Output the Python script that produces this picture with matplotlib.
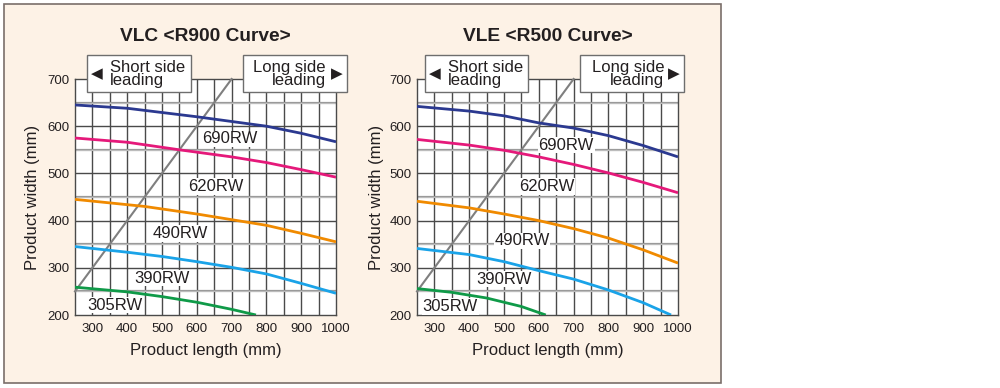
import matplotlib
matplotlib.use("Agg")
import matplotlib.pyplot as plt
from matplotlib.patches import Rectangle

plt.rcParams['font.family'] = ['Liberation Sans', 'DejaVu Sans']

# ---------------- data ----------------
titles = ["VLC <R900 Curve>", "VLE <R500 Curve>"]
series_names = ["690RW", "620RW", "490RW", "390RW", "305RW"]
colors = ["#2b3990", "#e5197a", "#f08a00", "#1aa3e8", "#0f9a48"]

# VLC (R900)
vlc_690_x = [250, 400, 600, 700, 800, 900, 1000]
vlc_690_y = [645, 638, 620, 610, 600, 585, 567]
vlc_620_x = [250, 400, 550, 700, 800, 900, 1000]
vlc_620_y = [575, 566, 550, 535, 523, 508, 492]
vlc_490_x = [250, 450, 600, 700, 800, 900, 1000]
vlc_490_y = [445, 430, 414, 402, 390, 373, 355]
vlc_390_x = [250, 400, 500, 600, 700, 800, 900, 1000]
vlc_390_y = [345, 333, 324, 313, 301, 287, 267, 246]
vlc_305_x = [250, 400, 500, 600, 700, 770]
vlc_305_y = [259, 249, 239, 227, 212, 200]

# VLE (R500)
vle_690_x = [250, 400, 500, 600, 700, 800, 900, 1000]
vle_690_y = [642, 632, 622, 607, 596, 580, 559, 535]
vle_620_x = [250, 400, 500, 600, 700, 800, 900, 1000]
vle_620_y = [572, 560, 549, 535, 519, 501, 481, 459]
vle_490_x = [250, 400, 500, 600, 700, 800, 900, 1000]
vle_490_y = [441, 427, 414, 400, 383, 363, 338, 310]
vle_390_x = [250, 400, 500, 600, 700, 800, 900, 980]
vle_390_y = [341, 328, 313, 294, 276, 253, 226, 200]
vle_305_x = [250, 350, 450, 550, 620]
vle_305_y = [256, 248, 236, 218, 200]

# boundary line (short side / long side leading)
diag_x = [250, 700]
diag_y = [250, 700]

# label positions (data coords)
vlc_label_xy = [(695, 573), (655, 472), (552, 373), (500, 278), (365, 221)]
vle_label_xy = [(679, 560), (622, 472), (552, 357), (499, 276), (346, 218)]

x_ticks = [300, 400, 500, 600, 700, 800, 900, 1000]
y_ticks = [200, 300, 400, 500, 600, 700]

charts = [
    dict(title=titles[0],
         xs=[vlc_690_x, vlc_620_x, vlc_490_x, vlc_390_x, vlc_305_x],
         ys=[vlc_690_y, vlc_620_y, vlc_490_y, vlc_390_y, vlc_305_y],
         labels=vlc_label_xy,
         left=0.075, short_box=(284, 583), long_box=(733, 1032),
         short_arrow=312, short_text=350, long_text=971, long_arrow=1002,
         ylab_x=33),
    dict(title=titles[1],
         xs=[vle_690_x, vle_620_x, vle_490_x, vle_390_x, vle_305_x],
         ys=[vle_690_y, vle_620_y, vle_490_y, vle_390_y, vle_305_y],
         labels=vle_label_xy,
         left=0.417, short_box=(272, 569), long_box=(719, 1018),
         short_arrow=302, short_text=338, long_text=961, long_arrow=987,
         ylab_x=377),
]

fig = plt.figure(figsize=(10, 3.88), dpi=100)
fig.patch.set_facecolor("white")
bg = Rectangle((4/1000, 1-383/388), (721-4)/1000, (383-4)/388,
               transform=fig.transFigure, facecolor="#fdf2e6",
               edgecolor="#7a6e6a", linewidth=1.2, zorder=-10)
fig.patches.append(bg)

txt = "#231f20"
grid_dark = "#4a4a4a"
grid_light = "#9a9a9a"

for c in charts:
    ax = fig.add_axes([c["left"], 1-315/388, 0.261, 236/388])
    ax.set_zorder(1)
    ax.set_facecolor("white")
    ax.set_xlim(250, 1000)
    ax.set_ylim(200, 700)
    # grid
    for gx in range(300, 1000, 50):
        ax.axvline(gx, color=grid_dark, lw=1.0, zorder=1)
    for gy in range(250, 700, 50):
        if gy % 100 == 0:
            ax.axhline(gy, color=grid_dark, lw=1.0, zorder=1)
        else:
            ax.axhline(gy, color=grid_light, lw=1.6, zorder=1)
            ax.axhline(gy, color="#d8d8d8", lw=0.4, zorder=1)
    for s in ax.spines.values():
        s.set_color(grid_dark)
        s.set_linewidth(1.0)
    ax.set_xticks(x_ticks)
    ax.set_yticks(y_ticks)
    ax.tick_params(length=0, labelsize=9.5, labelcolor=txt, pad=4)
    ax.tick_params(axis='x', pad=6)

    ax.plot(diag_x, diag_y, color="#7f7f7f", lw=1.5, zorder=3, clip_on=False)
    for xs, ys, col in zip(c["xs"], c["ys"], colors):
        ax.plot(xs, ys, color=col, lw=2.0, zorder=4, solid_capstyle='butt')
    for name, (lx, ly) in zip(series_names, c["labels"]):
        ax.text(lx, ly, name, fontsize=12, color=txt, ha='center', va='center',
                zorder=5, bbox=dict(facecolor='white', edgecolor='none', pad=0.5))

    # leading boxes
    for (x0, x1) in (c["short_box"], c["long_box"]):
        ax.add_patch(Rectangle((x0, 672), x1-x0, 751-672, facecolor='white',
                               edgecolor="#6e6e6e", lw=1.0, zorder=6, clip_on=False))
    ax.text(c["short_arrow"], 710, "\u25C0", fontsize=11, color=txt, ha='center',
            va='center', zorder=7, clip_on=False)
    ax.text(c["short_text"], 724, "Short side", fontsize=12, color=txt, ha='left',
            va='center', zorder=7, clip_on=False)
    ax.text(c["short_text"], 696, "leading", fontsize=12, color=txt, ha='left',
            va='center', zorder=7, clip_on=False)
    ax.text(c["long_text"], 724, "Long side", fontsize=12, color=txt, ha='right',
            va='center', zorder=7, clip_on=False)
    ax.text(c["long_text"], 696, "leading", fontsize=12, color=txt, ha='right',
            va='center', zorder=7, clip_on=False)
    ax.text(c["long_arrow"], 710, "\u25B6", fontsize=11, color=txt, ha='center',
            va='center', zorder=7, clip_on=False)

    cx = c["left"] + 0.261/2
    fig.text(cx, 1-36.7/388, c["title"], fontsize=13.8, fontweight='bold',
             color=txt, ha='center', va='center')
    fig.text(cx, 1-351/388, "Product length (mm)", fontsize=12, color=txt,
             ha='center', va='center')
    fig.text(c["ylab_x"]/1000, 1-197/388, "Product width (mm)", fontsize=12,
             color=txt, ha='center', va='center', rotation=90)

fig.savefig("out.png", dpi=100)
